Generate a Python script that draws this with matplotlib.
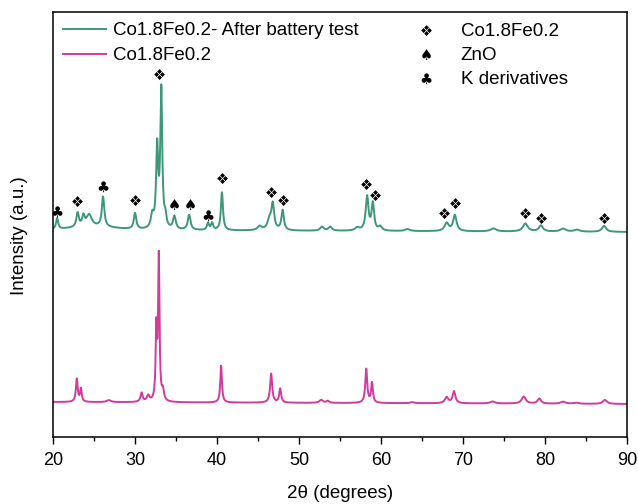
import numpy as np
import matplotlib
matplotlib.use('Agg')
import matplotlib.pyplot as plt

plt.rcParams['font.family'] = ['Liberation Sans', 'DejaVu Sans']

# ---- data (intensity in arbitrary units) ----
# after battery test (green), offset trace
green_base = 207
green_pos = [20.5, 23.0, 23.7, 24.4, 26.1, 30.0, 32.1, 32.7, 33.2, 33.7, 34.8, 36.6,
             38.9, 39.4, 40.6, 45.2, 46.4, 46.8, 48.0, 52.8, 53.8, 57.1, 58.3, 59.0,
             59.9, 63.2, 68.0, 69.0, 73.7, 77.6, 79.5, 82.2, 83.9, 87.2]
green_h = [11, 14, 10, 12, 30, 16, 13, 80, 138, 10, 13, 15,
           7, 7, 38, 4, 10, 25, 20, 4, 4, 3, 34, 27,
           4, 2, 8, 16, 3, 8, 6, 3, 2, 6]
green_w = [0.15, 0.18, 0.18, 0.4, 0.18, 0.18, 0.2, 0.15, 0.14, 0.15, 0.2, 0.2,
           0.15, 0.15, 0.15, 0.3, 0.3, 0.2, 0.18, 0.25, 0.25, 0.3, 0.2, 0.18,
           0.25, 0.35, 0.3, 0.25, 0.4, 0.35, 0.3, 0.4, 0.4, 0.3]

# pristine Co1.8Fe0.2 (magenta)
pink_base = 35
pink_pos = [22.9, 23.4, 26.8, 30.8, 31.6, 32.6, 32.9, 33.4, 40.5, 46.6, 47.7,
            52.7, 53.5, 58.2, 58.9, 63.8, 68.0, 68.9, 73.6, 77.4, 79.3, 82.2,
            83.8, 87.3]
pink_h = [23, 13, 2, 9, 6, 70, 144, 10, 37, 29, 14,
          3, 2, 34, 20, 1, 6, 12, 2, 7, 5, 2,
          1, 4]
pink_w = [0.13, 0.12, 0.3, 0.15, 0.2, 0.1, 0.1, 0.15, 0.12, 0.15, 0.14,
          0.25, 0.2, 0.14, 0.13, 0.3, 0.25, 0.2, 0.35, 0.3, 0.25, 0.35,
          0.35, 0.3]

# phase markers: (angle, height, symbol)
mark_x = [20.5, 23.0, 26.1, 30.0, 33.0, 34.8, 36.7, 38.9, 40.6, 46.6, 48.1,
          58.2, 59.3, 67.7, 69.1, 77.6, 79.6, 87.2]
mark_y = [225, 235, 250, 236, 362, 232, 232, 221, 258, 244, 236,
          252, 241, 223, 233, 223, 218, 218]
mark_s = ['♣', '❖', '♣', '❖', '❖', '♠', '♠', '♣', '❖', '❖', '❖',
          '❖', '❖', '❖', '❖', '❖', '❖', '❖']


def pattern(x, base, pos, h, w):
    y = np.full_like(x, float(base))
    for p, a, s in zip(pos, h, w):
        y += a / (1 + ((x - p) / s) ** 2)
    return y


x = np.linspace(20, 90, 3500)
y_green = pattern(x, green_base, green_pos, green_h, green_w)
y_green += 3 * np.exp(-((x - 25) / 4) ** 2) - 2 * (x - 20) / 70
y_pink = pattern(x, pink_base, pink_pos, pink_h, pink_w)
y_pink -= 2 * (x - 20) / 70

fig = plt.figure(figsize=(6.38, 5.04), dpi=100)
ax = fig.add_axes([0.0831, 0.1329, 0.8997, 0.8433])

ax.plot(x, y_green, color='#3d9878', lw=1.4, label='Co1.8Fe0.2- After battery test')
ax.plot(x, y_pink, color='#d23a9c', lw=1.4, label='Co1.8Fe0.2')

for mx, my, ms in zip(mark_x, mark_y, mark_s):
    ax.text(mx, my, ms, ha='center', va='center', fontsize=10.5,
            family=['DejaVu Sans'])

# phase key
key_sym = ['❖', '♠', '♣']
key_txt = ['Co1.8Fe0.2', 'ZnO', 'K derivatives']
for i, (s, t) in enumerate(zip(key_sym, key_txt)):
    yy = 0.955 - i * 0.0565
    ax.text(0.65, yy, s, transform=ax.transAxes, ha='center', va='center',
            fontsize=10.5, family=['DejaVu Sans'])
    ax.text(0.71, yy, t, transform=ax.transAxes, ha='left', va='center',
            fontsize=13.5)

ax.legend(loc='upper left', frameon=False, fontsize=13.5, handlelength=2.3,
          handletextpad=0.35, borderaxespad=0.15, labelspacing=0.42)

ax.set_xlim(20, 90)
ax.set_ylim(0, 425)
ax.set_xticks(np.arange(20, 91, 10))
ax.set_xticks(np.arange(25, 90, 10), minor=True)
ax.set_yticks([])
ax.tick_params(axis='x', which='major', direction='out', length=5, width=1,
               labelsize=13, pad=6)
ax.tick_params(axis='x', which='minor', direction='out', length=3, width=1)
for sp in ax.spines.values():
    sp.set_linewidth(1.1)

ax.set_xlabel('2θ (degrees)', fontsize=13.5, labelpad=11)
ax.set_ylabel('Intensity (a.u.)', fontsize=13.5)
ax.yaxis.set_label_coords(-0.043, 0.475)

fig.savefig('out.png', dpi=100)
